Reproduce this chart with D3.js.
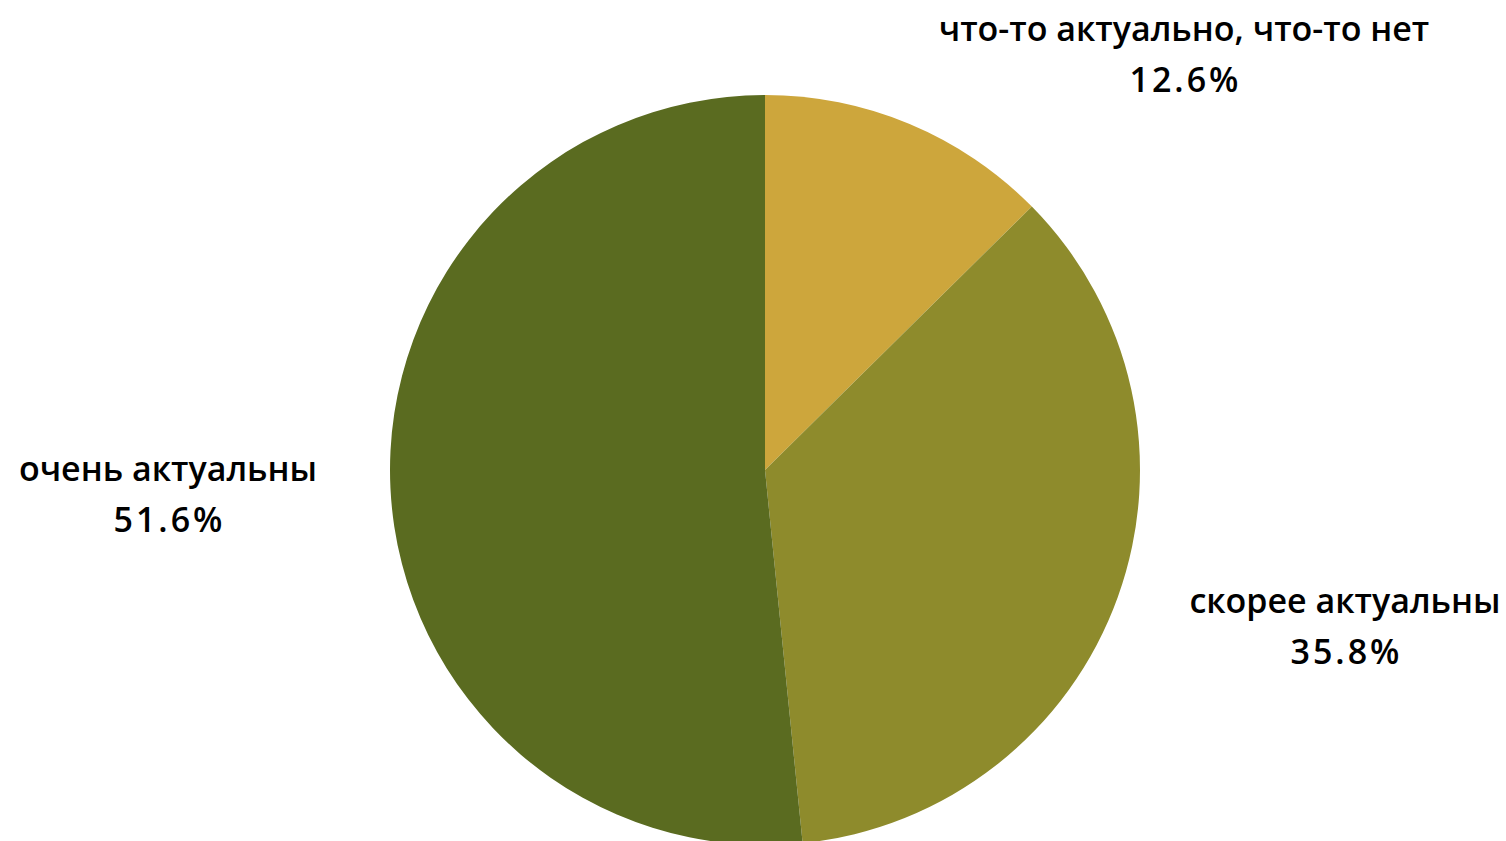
<!DOCTYPE html>
<html><head><meta charset="utf-8">
<script src="https://cdn.jsdelivr.net/npm/d3@7/dist/d3.min.js"></script>
<style>html,body{margin:0;padding:0;background:#fff;overflow:hidden}</style>
</head><body>
<svg id="chart" width="1506" height="841"></svg>
<script>
const categories = ["что-то актуально, что-то нет", "скорее актуальны", "очень актуальны"];
const values = [12.6, 35.8, 51.6];
const colors = ["#CDA63C", "#8E8B2C", "#5A6B20"];
// label layout (pixel centre of first line), separate from data
const labelPos = [[1184, 41], [1345, 613], [168, 481]];

const svg = d3.select("#chart");
const cx = 765, cy = 470, r = 375;
const pie = d3.pie().sort(null).value(d => d)(values);
const arc = d3.arc().innerRadius(0).outerRadius(r);
const g = svg.append("g").attr("transform", `translate(${cx},${cy})`);
g.selectAll("path").data(pie).join("path")
  .attr("d", arc).attr("fill", (d,i) => colors[i]);

const lab = svg.append("g").attr("font-family", "'Open Sans', 'Noto Sans', sans-serif")
  .attr("font-weight", 600).attr("font-size", 34).attr("fill", "#000").attr("text-anchor", "middle");
pie.forEach((d,i) => {
  const t = lab.append("text").attr("x", labelPos[i][0]).attr("y", labelPos[i][1]);
  t.append("tspan").attr("x", labelPos[i][0]).text(categories[i]);
  t.append("tspan").attr("x", labelPos[i][0] + 1.5).attr("dy", 51)
    .attr("letter-spacing", 3).text(d3.format(".1f")(values[i]) + "%");
});
</script>
</body></html>
